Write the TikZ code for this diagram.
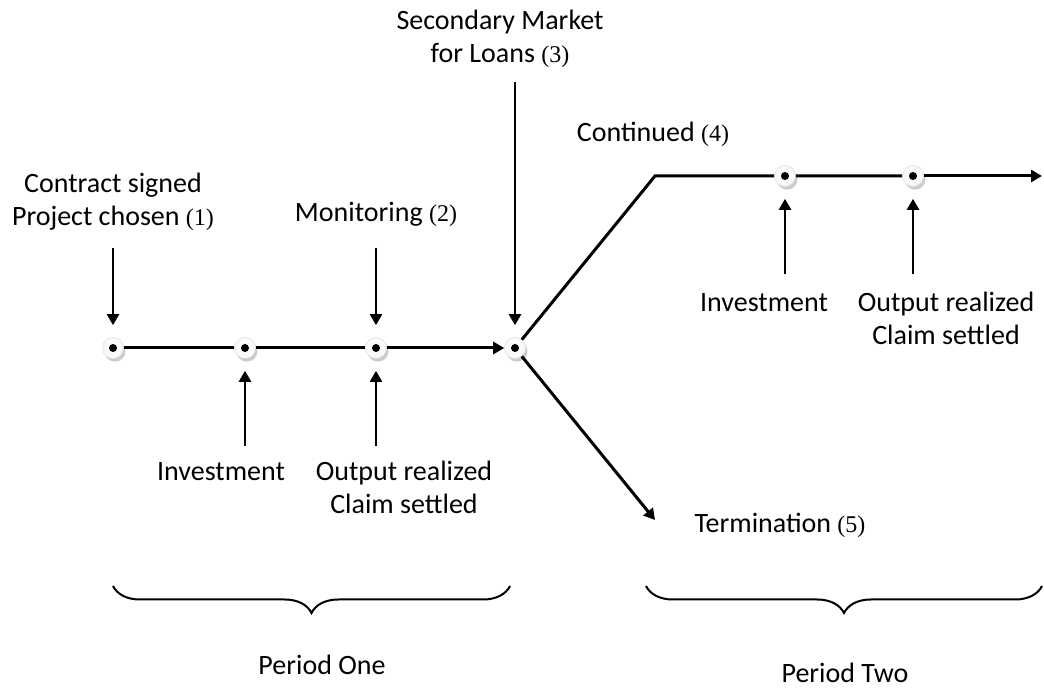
\documentclass[tikz,border=0pt]{standalone}
\usepackage{fontspec}
\setmainfont{Carlito}
\newfontfamily\numfont{Liberation Serif}
\usetikzlibrary{arrows.meta,shadows,decorations.pathreplacing}
\newcommand{\num}[1]{{\numfont\fontsize{12}{14}\selectfont(#1)}}

\tikzset{every picture/.style={line width=1.5pt}}

\begin{document}
\begin{tikzpicture}[x=0.5pt,y=-0.5pt,
	>={Triangle[length=5.5pt,width=6pt]},
	event/.style={circle,minimum size=10.5pt,inner sep=0pt,fill=gray!5,draw=gray!25,line width=0.3pt,
		drop shadow={shadow xshift=1pt,shadow yshift=-1.6pt,fill=gray!40,opacity=1},
		path picture={\fill[black] (path picture bounding box.center) circle (2pt);}},
	pin/.style={->,line width=1.2pt,shorten >=6pt},
	lbl/.style={font=\fontsize{14}{16.5}\selectfont,align=center,inner sep=0pt,anchor=base},
	period/.style={decorate,decoration={brace,mirror,amplitude=13.5pt},line width=1pt}]
	\useasboundingbox (0,0) rectangle (1044,688);
	% 時点
	\node[event] (t1) at (113,348) {};
	\node[event] (t2) at (245,348) {};
	\node[event] (t3) at (376,348) {};
	\node[event] (t4) at (515,348) {};
	\node[event] (u1) at (785,176) {};
	\node[event] (u2) at (913,176) {};
	\coordinate (knee) at (655,176);
	\coordinate (cont) at (1042,176);
	\coordinate (term) at (655,520);
	% 時間軸
	\draw (t1)--(t2)--(t3);
	\draw[->] (t3)--(t4);
	\draw (t4)--(knee)--(u1)--(u2);
	\draw[->] (u2)--(cont); %継続
	\draw[->] (t4)--(term); %終了
	% 矢印
	\coordinate (p1) at (113,248); \draw[pin] (p1)--(t1);
	\coordinate (p3) at (376,248); \draw[pin] (p3)--(t3);
	\coordinate (p4) at (515,82);  \draw[pin] (p4)--(t4);
	\coordinate (q2) at (245,446); \draw[pin] (q2)--(t2);
	\coordinate (q3) at (376,446); \draw[pin] (q3)--(t3);
	\coordinate (r1) at (785,274); \draw[pin] (r1)--(u1);
	\coordinate (r2) at (913,274); \draw[pin] (r2)--(u2);
	% ラベル (複数行は最終行の基線)
	\node[lbl] (sign) at (113,226) {Contract signed\\Project chosen \num{1}};
	\node[lbl] (moni) at (376,222) {Monitoring \num{2}};
	\node[lbl] (mkt) at (500,63) {Secondary Market\\for Loans \num{3}};
	\node[lbl] (cnt) at (653,142) {Continued \num{4}};
	\node[lbl] (inv1) at (221,481) {Investment};
	\node[lbl] (out1) at (404,514) {Output realized\\Claim settled};
	\node[lbl] (trm) at (780,533) {Termination \num{5}};
	\node[lbl] (inv2) at (764,312) {Investment};
	\node[lbl] (out2) at (946,345) {Output realized\\Claim settled};
	% 期間
	\draw[period] (113,586)--(510,586);
	\draw[period] (646,586)--(1042,586);
	\node[lbl] (per1) at (322,675) {Period One};
	\node[lbl] (per2) at (845,683) {Period Two};
\end{tikzpicture}
\end{document}
